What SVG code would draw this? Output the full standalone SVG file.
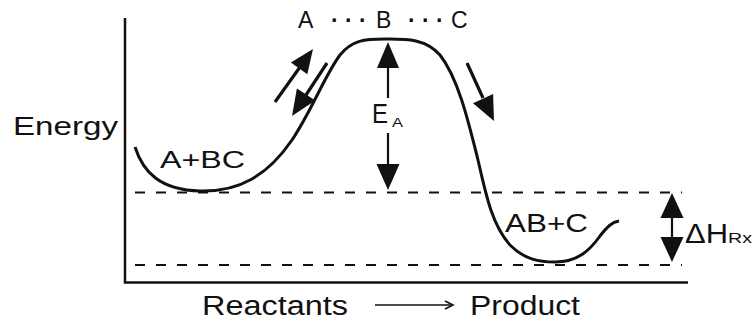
<svg xmlns="http://www.w3.org/2000/svg" width="755" height="321" viewBox="0 0 755 321">
<style>
.t{font-family:"Liberation Sans",Arial,sans-serif;fill:#111;}
.ln{stroke:#111;fill:none;}
.dash{stroke:#111;stroke-width:2;stroke-dasharray:10 11;fill:none;}
.hd{fill:#111;stroke:none;}
</style>
<rect width="755" height="321" fill="#fff"/>
<g id="axes">
<path class="ln" d="M125,18 V282.5 H688" stroke-width="2.5"/>
</g>
<g id="levels">
<line class="dash" x1="135" y1="192.5" x2="682" y2="192.5"/>
<line class="dash" x1="135" y1="265" x2="682" y2="265"/>
</g>
<g id="curve">
<path class="ln" stroke-width="3" d="M135,147 C143,172 160,190 200,191 C240,192 268,175 292,140 C312,110 325,75 340,55 C352,40 365,39 385,39 C405,39 425,38 440,55 C458,78 468,120 478,160 C486,195 492,225 510,245 C525,260 540,262 555,262 C578,262 590,250 600,236 C607,227 612,222 619,221"/>
</g>
<g id="connectors">
<g id="arrow-forward">
<line class="ln" stroke-width="3.2" x1="275" y1="102" x2="300" y2="67"/>
<polygon class="hd" points="313,49 307.3,74.3 290.9,62.6"/>
</g>
<g id="arrow-back">
<line class="ln" stroke-width="3.2" x1="327" y1="63" x2="306" y2="95"/>
<polygon class="hd" points="292,116 315.3,100.4 296.9,88.4"/>
</g>
<g id="arrow-down-right">
<line class="ln" stroke-width="3.2" x1="467" y1="63" x2="483" y2="98"/>
<polygon class="hd" points="494,121 493.1,94.1 473,103.2"/>
</g>
<g id="arrow-ea">
<line class="ln" stroke-width="2.2" x1="388" y1="66" x2="388" y2="98"/>
<polygon class="hd" points="388,42 399,68 377,68"/>
<line class="ln" stroke-width="2.2" x1="388" y1="133" x2="388" y2="166"/>
<polygon class="hd" points="388,190 399.5,164 376.5,164"/>
</g>
<g id="arrow-dh">
<line class="ln" stroke-width="2.2" x1="672" y1="217" x2="672" y2="238"/>
<polygon class="hd" points="672,193 683.5,218 660.5,218"/>
<polygon class="hd" points="672,262 683.5,237 660.5,237"/>
</g>
<g id="arrow-axis">
<line class="ln" stroke-width="1.6" x1="375" y1="305" x2="452" y2="305"/>
<polyline class="ln" stroke-width="1.6" points="445,301 453,305 445,309"/>
</g>
</g>
<g id="labels">
<text class="t" x="13" y="135" font-size="25" textLength="105" lengthAdjust="spacingAndGlyphs">Energy</text>
<text class="t" x="160" y="168" font-size="23" textLength="85" lengthAdjust="spacingAndGlyphs">A+BC</text>
<text class="t" x="505" y="232" font-size="26" textLength="83" lengthAdjust="spacingAndGlyphs">AB+C</text>
<text class="t" y="28" font-size="23"><tspan x="298">A</tspan><tspan x="331" font-weight="bold">· · ·</tspan><tspan x="376">B</tspan><tspan x="408" font-weight="bold">· · ·</tspan><tspan x="451">C</tspan></text>
<text class="t" x="372" y="123" font-size="28" textLength="16" lengthAdjust="spacingAndGlyphs">E</text>
<text class="t" x="392" y="127" font-size="13" textLength="11" lengthAdjust="spacingAndGlyphs">A</text>
<text class="t" x="685" y="243" font-size="27" textLength="43" lengthAdjust="spacingAndGlyphs">ΔH</text>
<text class="t" x="728" y="243" font-size="15" textLength="24" lengthAdjust="spacingAndGlyphs">Rx</text>
<text class="t" x="202" y="315" font-size="27" textLength="146" lengthAdjust="spacingAndGlyphs">Reactants</text>
<text class="t" x="470" y="315" font-size="27" textLength="110" lengthAdjust="spacingAndGlyphs">Product</text>
</g>
</svg>
